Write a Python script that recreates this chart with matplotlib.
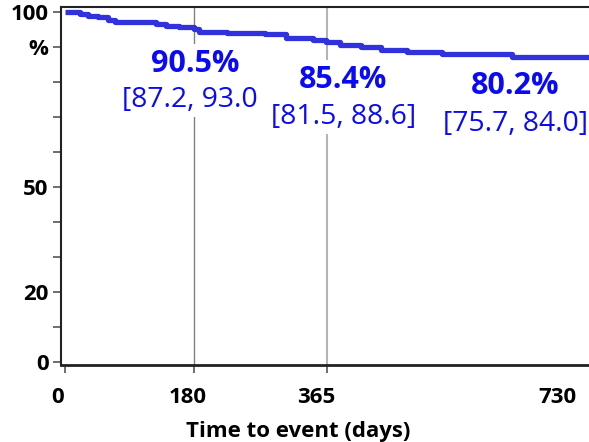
import matplotlib
matplotlib.use("Agg")
import matplotlib.pyplot as plt
from matplotlib.transforms import ScaledTranslation

# Kaplan-Meier type curve (days, %)
times = [0, 21, 32, 46, 60, 70, 113, 127, 141, 159, 179, 187, 225, 278, 307,
         345, 363, 383, 411, 439, 475, 525, 622, 737]
surv = [100, 99.5, 99.0, 98.6, 97.8, 97.3, 97.1, 96.7, 96.1, 95.7, 95.1, 94.4,
        94.2, 93.7, 92.6, 92.1, 91.4, 90.6, 90.0, 89.2, 88.6, 88.1, 87.3, 87.3]

# annotated estimates at the landmark times
estimates = ["90.5%", "85.4%", "80.2%"]
intervals = ["[87.2, 93.0", "[81.5, 88.6]", "[75.7, 84.0]"]
est_x = [181, 387, 626]
ci_x = [174, 387, 626]
est_y = [85.2, 80.6, 78.9]
ci_y = [74.9, 70.0, 68.0]

x_ticks = [0, 180, 365, 730]
y_ticks = [0, 10, 20, 30, 40, 50, 60, 70, 80, 90, 100]
y_labels = ["0", "", "20", "", "", "50", "", "", "", "%", "100"]

plt.rcParams["font.family"] = ["Open Sans", "DejaVu Sans"]

fig = plt.figure(figsize=(5.89, 4.42), dpi=100)
ax = fig.add_axes([61 / 589, 1 - 365 / 442, 1.0 - 61 / 589 + 0.01, (365 - 6.7) / 442])

ax.plot(times, surv, drawstyle="steps-post", color="#3232dc", lw=3.8,
        solid_capstyle="butt", zorder=3)

ax.axvline(180, color="#808080", lw=1.0, zorder=1)
ax.axvline(365, color="#b4b4b4", lw=1.5, zorder=1)

blue = "#0a0af5"
for ex, cx, e, c, ey, cy in zip(est_x, ci_x, estimates, intervals, est_y, ci_y):
    ax.text(ex, ey, e, ha="center", va="center", fontsize=22, fontweight="bold",
            color=blue, zorder=2,
            bbox=dict(facecolor="white", edgecolor="none", pad=4))
    ax.text(cx, cy, c, ha="center", va="center", fontsize=20.3, color=blue,
            zorder=2, bbox=dict(facecolor="white", edgecolor="none", pad=2))

ax.set_xlim(-5.6, 737)
ax.set_ylim(-0.9, 101.6)
ax.set_xticks(x_ticks)
ax.set_yticks(y_ticks)
ax.set_yticklabels(y_labels)
ax.tick_params(axis="both", direction="out", length=6, width=1.2,
               color="#555555", labelsize=16, pad=3)
ax.tick_params(axis="x", pad=10)
for lab in ax.get_xticklabels() + ax.get_yticklabels():
    lab.set_fontweight("bold")

# x tick labels sit a little left of their ticks, the last one pulled inside
shifts = [-7, -7, -11, -32]
for lab, dx in zip(ax.get_xticklabels(), shifts):
    lab.set_transform(lab.get_transform() + ScaledTranslation(dx / 100, 0, fig.dpi_scale_trans))

fig.text(298 / 589, 1 - 431 / 442, "Time to event (days)", ha="center", va="center",
         fontsize=16, fontweight="bold")

for side in ["left", "bottom", "top"]:
    ax.spines[side].set_color("#222222")
ax.spines["left"].set_linewidth(1.5)
ax.spines["bottom"].set_linewidth(2)
ax.spines["top"].set_linewidth(1.5)
ax.spines["right"].set_visible(False)

fig.savefig("out.png", dpi=100)
